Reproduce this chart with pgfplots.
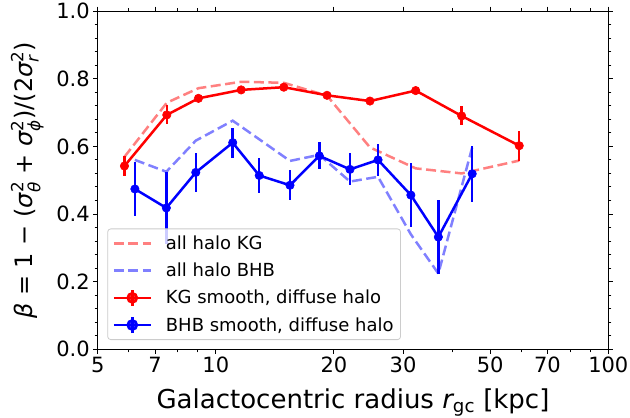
\documentclass[border=0pt]{standalone}
\usepackage{fontspec}
\setmainfont{DejaVu Sans}
\usepackage{amsmath}
\usepackage{pgfplots}
\pgfplotsset{compat=1.18}
\usepackage{pgfplotstable}

\pgfplotstableread{
r b
5.85 0.569
7.50 0.729
9.03 0.772
11.6 0.791
14.9 0.788
19.2 0.750
24.7 0.597
32.3 0.535
42.3 0.520
59.3 0.558
}\kgall

\pgfplotstableread{
r b
6.22 0.560
7.48 0.525
8.89 0.617
11.04 0.676
12.9 0.621
15.45 0.557
18.35 0.575
21.97 0.496
25.9 0.510
31.4 0.340
36.9 0.224
45.0 0.597
}\bhball

\pgfplotstableread{
r b e
5.85 0.542 0.030
7.50 0.693 0.028
9.03 0.742 0.008
11.6 0.767 0.008
14.9 0.775 0.008
19.2 0.751 0.008
24.7 0.734 0.008
32.3 0.765 0.008
42.3 0.690 0.028
59.3 0.602 0.044
}\kgsmooth

\pgfplotstableread{
r b e
6.22 0.474 0.080
7.48 0.418 0.107
8.89 0.523 0.058
11.04 0.611 0.044
12.9 0.514 0.052
15.45 0.485 0.044
18.35 0.572 0.040
21.97 0.532 0.047
25.9 0.560 0.048
31.4 0.456 0.095
36.9 0.332 0.108
45.0 0.519 0.083
}\bhbsmooth

\begin{document}
\begin{tikzpicture}
\begin{axis}[
  name=ax, at={(0pt,0pt)}, anchor=south west,
  scale only axis, width=510.6pt, height=338.2pt,
  xmode=log, xmin=5, xmax=100, ymin=0, ymax=1,
  xtick={5,7,10,20,30,50,70,100},
  xticklabels={5,7,10,20,30,50,70,100},
  minor xtick={6,8,9,40,60,80,90},
  ytick={0,0.2,0.4,0.6,0.8,1},
  yticklabels={0.0,0.2,0.4,0.6,0.8,1.0},
  minor ytick={0.04,0.08,0.12,0.16,0.24,0.28,0.32,0.36,0.44,0.48,0.52,0.56,0.64,0.68,0.72,0.76,0.84,0.88,0.92,0.96},
  tick align=outside,
  major tick length=4.5pt, minor tick length=3pt,
  every tick/.style={black, line width=1pt},
  axis line style={black, line width=1pt},
  ticklabel style={font=\fontsize{21}{25}\selectfont},
  xlabel={Galactocentric radius $\text{\itshape r}_{\text{gc}}$ [kpc]},
  ylabel={{\itshape β} = 1 − ($\text{\itshape σ}^{\text{2}}_{\text{\itshape θ}}$ + $\text{\itshape σ}^{\text{2}}_{\text{\itshape ϕ}}$)/(2$\text{\itshape σ}^{\text{2}}_{\text{\itshape r}}$)},
  ylabel style={font=\fontsize{24}{28}\selectfont, at={(axis description cs:-0.1277,0.5)}, anchor=base},
  xlabel style={font=\fontsize{26}{30}\selectfont, at={(axis description cs:0.5,-0.1745)}, anchor=base},
  legend cell align=left,
  legend style={
    at={(axis description cs:0.0188,0.0275)}, anchor=south west,
    draw=black!20, line width=0.8pt, rounded corners=3pt,
    fill=white, fill opacity=0.8, text opacity=1, draw opacity=1,
    font=\fontsize{18}{21}\selectfont,
    inner xsep=5pt, inner ysep=5pt,
    row sep=8pt, column sep=12pt,
  },
]
\addplot[color=red!50!white, dash pattern=on 10pt off 4.5pt, line width=2.5pt, mark=none,
  legend image code/.code={\draw[red!50!white, dash pattern=on 10pt off 4.5pt, line width=2.5pt] (0pt,0pt) -- (36.7pt,0pt);}]
  table[x=r, y=b] {\kgall};
\addlegendentry{all halo KG}
\addplot[color=blue!50!white, dash pattern=on 10pt off 4.5pt, line width=2.5pt, mark=none,
  legend image code/.code={\draw[blue!50!white, dash pattern=on 10pt off 4.5pt, line width=2.5pt] (0pt,0pt) -- (36.7pt,0pt);}]
  table[x=r, y=b] {\bhball};
\addlegendentry{all halo BHB}
\addplot[color=red, line width=2.5pt, mark=*, mark size=4.2pt, mark options={solid, fill=red, draw=red, line width=0.6pt},
  legend image code/.code={\draw[red, line width=2.5pt] (0pt,0pt) -- (36.7pt,0pt); \draw[red, line width=2.5pt] (18.35pt,-8pt) -- (18.35pt,8pt); \fill[red] (18.35pt,0pt) circle (4.6pt);},
  error bars/.cd, y dir=both, y explicit, error mark=none, error bar style={line width=2.5pt, red}]
  table[x=r, y=b, y error=e] {\kgsmooth};
\addlegendentry{KG smooth, diffuse halo}
\addplot[color=blue, line width=2.5pt, mark=*, mark size=4.2pt, mark options={solid, fill=blue, draw=blue, line width=0.6pt},
  legend image code/.code={\draw[blue, line width=2.5pt] (0pt,0pt) -- (36.7pt,0pt); \draw[blue, line width=2.5pt] (18.35pt,-8pt) -- (18.35pt,8pt); \fill[blue] (18.35pt,0pt) circle (4.6pt);},
  error bars/.cd, y dir=both, y explicit, error mark=none, error bar style={line width=2.5pt, blue}]
  table[x=r, y=b, y error=e] {\bhbsmooth};
\addlegendentry{BHB smooth, diffuse halo}
\end{axis}
\pgfresetboundingbox
\path[use as bounding box] (-97.7pt,-68.7pt) rectangle (532.3pt,349.3pt);
\end{tikzpicture}
\end{document}
